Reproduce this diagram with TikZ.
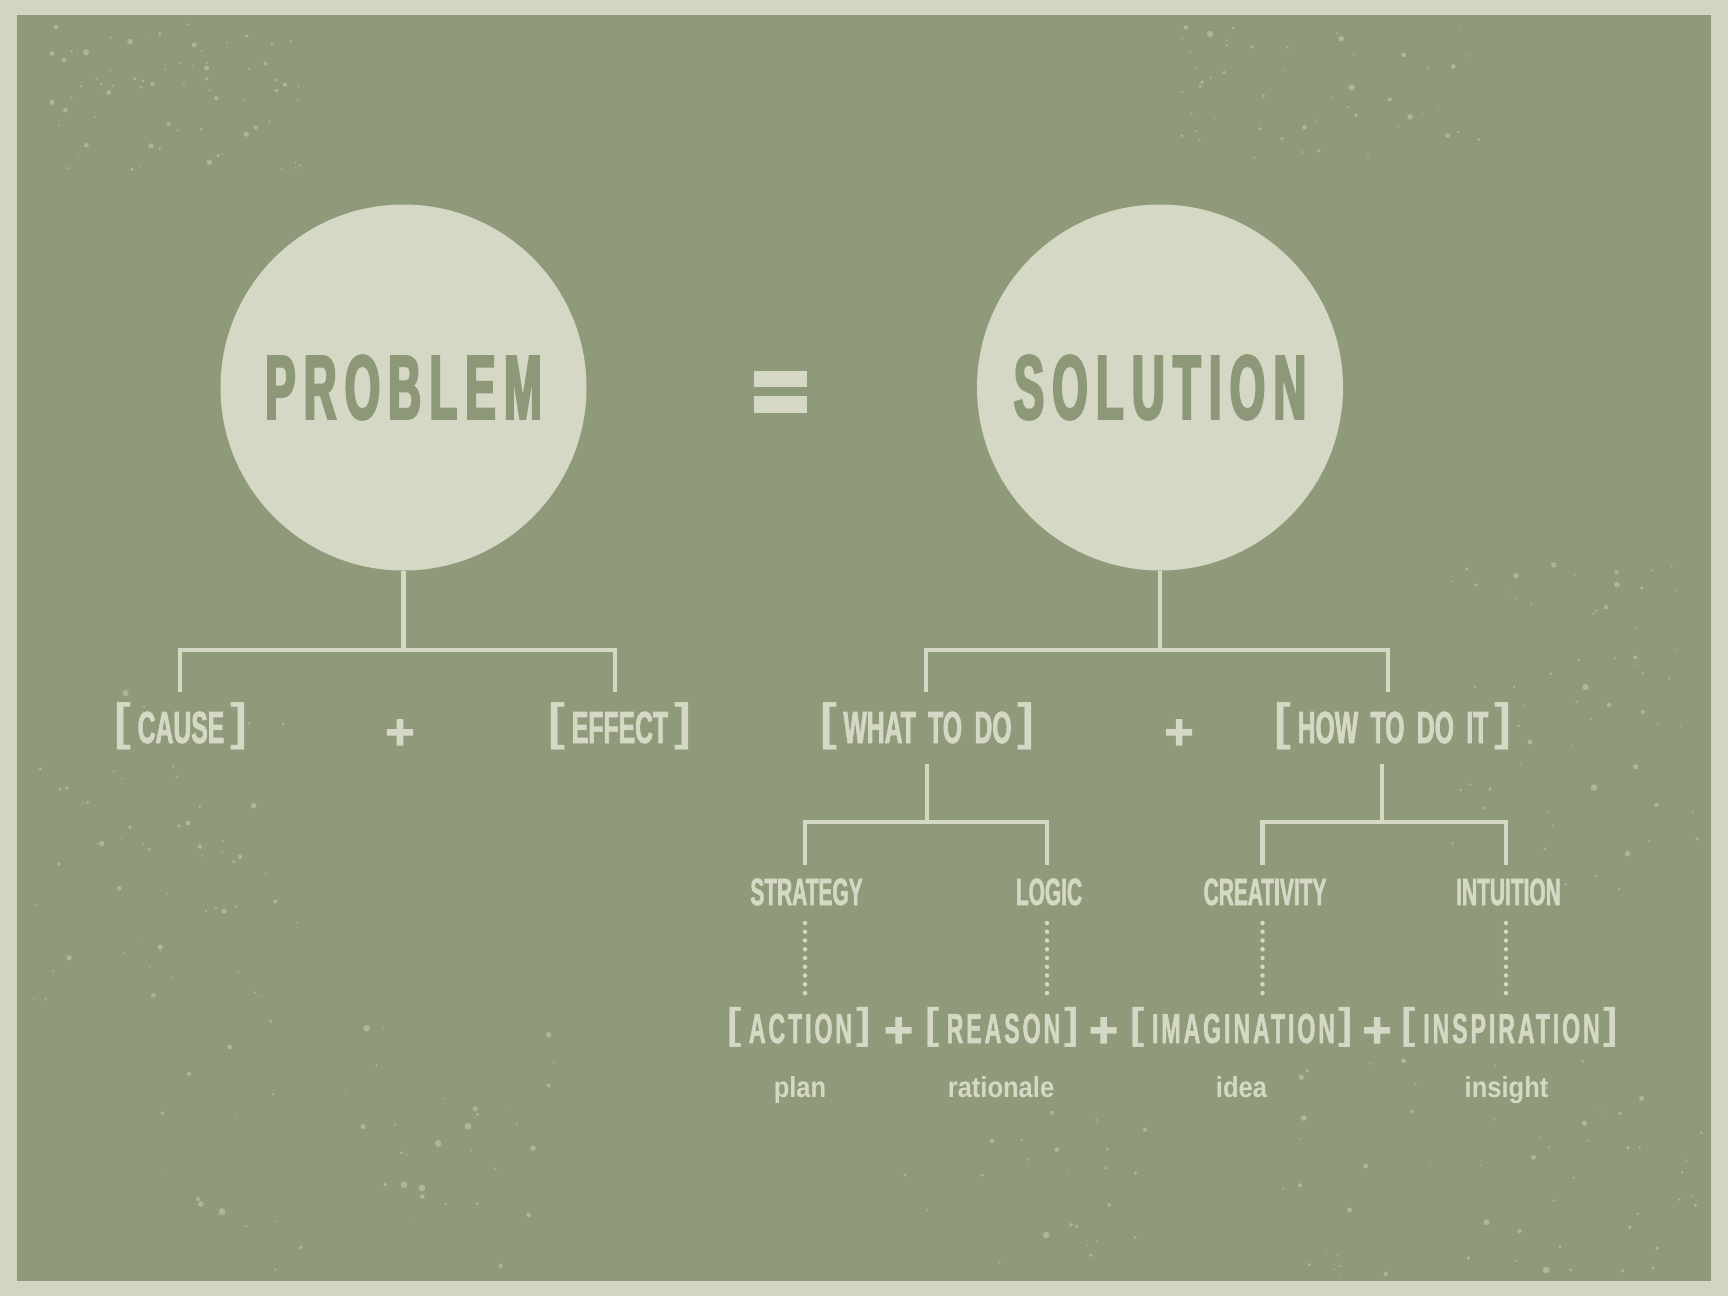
\documentclass[tikz,border=0pt]{standalone}
\usepackage{fontspec}
\setmainfont{Liberation Sans}
\newfontfamily\titlefont{Liberation Sans}[FakeStretch=0.5,LetterSpace=9,FakeBold=2.5]
\newfontfamily\midfont{Liberation Sans}[FakeStretch=0.55,WordSpace=1.8,FakeBold=1.5]
\newfontfamily\lowfont{Liberation Sans}[FakeStretch=0.55,LetterSpace=7,FakeBold=1.2]
\newfontfamily\subfont{Liberation Sans}[FakeStretch=0.88]
\newfontfamily\brfont{Liberation Sans}
\newfontfamily\plusfont{Liberation Sans}[FakeBold=2]
\definecolor{outerbg}{HTML}{D3D5C2}
\definecolor{fieldgreen}{HTML}{8E9A7A}
\definecolor{lite}{HTML}{D5D8C4}
\definecolor{dgreen}{HTML}{8C9877}
\newcommand\mlb{{\brfont\bfseries\fontsize{51}{51}\selectfont\raisebox{3.5pt}{[}}\hspace{6pt}}
\newcommand\mrb{\hspace{6pt}{\brfont\bfseries\fontsize{51}{51}\selectfont\raisebox{3.5pt}{]}}}
\newcommand\llb{{\brfont\bfseries\fontsize{43}{43}\selectfont\raisebox{5pt}{[}}\hspace{7pt}}
\newcommand\lrb{\hspace{4pt}{\brfont\bfseries\fontsize{43}{43}\selectfont\raisebox{5pt}{]}}}
\newcommand\specks[5]{%
  \foreach \k in {1,...,#5}{%
    \pgfmathsetmacro\sx{#1+(#3-#1)*rnd}%
    \pgfmathsetmacro\sy{#2+(#4-#2)*rnd}%
    \pgfmathsetmacro\sr{0.8+3*rnd*rnd}%
    \fill[speck] (\sx,\sy) circle[radius=\sr pt];%
  }%
}
\begin{document}
\begin{tikzpicture}[x=1pt,y=-1pt,
  conn/.style={draw=lite,line width=4.5pt},
  dotline/.style={draw=lite,line width=4.5pt,line cap=round,dash pattern=on 0pt off 8.75pt},
  bigc/.style={circle,fill=lite,minimum size=366pt,inner sep=0pt,outer sep=0pt,text=dgreen},
  lbl/.style={inner sep=0pt,outer sep=0pt,text=lite,anchor=base},
  midtxt/.style={lbl,font=\midfont\bfseries\fontsize{45}{45}\selectfont},
  smalltxt/.style={lbl,font=\midfont\bfseries\fontsize{38}{38}\selectfont},
  lowtxt/.style={lbl,font=\lowfont\bfseries\fontsize{42}{42}\selectfont},
  subtxt/.style={lbl,font=\subfont\bfseries\fontsize{29}{29}\selectfont},
  plustxt/.style={lbl,font=\plusfont\bfseries\fontsize{50}{50}\selectfont},
  speck/.style={fill=lite,fill opacity=0.45}]
\fill[outerbg] (0,0) rectangle (1728,1296);
\fill[fieldgreen] (17,15) rectangle (1711,1281);
\useasboundingbox (0,0) rectangle (1728,1296);
% texture
\pgfmathsetseed{42}
\specks{50}{22}{300}{170}{70}
\specks{1180}{22}{1480}{160}{50}
\specks{1450}{560}{1700}{900}{60}
\specks{30}{680}{300}{1000}{55}
\specks{160}{1020}{560}{1270}{45}
\specks{900}{1110}{1150}{1270}{25}
\specks{1280}{1060}{1705}{1275}{55}
% circles
\node[bigc] (prob) at (403.5,387.5) {\titlefont\bfseries\fontsize{91}{91}\selectfont PROBLEM\hspace{-8pt}};
\node[bigc] (sol) at (1160,387.5) {\titlefont\bfseries\fontsize{91}{91}\selectfont SOLUTION\hspace{-8pt}};
% equals sign
\fill[lite] (754,371) rectangle (807,387);
\fill[lite] (754,396) rectangle (807,413);
% level 1 labels
\node[midtxt] (cause) at (181,743) {\mlb CAUSE\mrb};
\node[plustxt] (p1) at (400,749) {+};
\node[midtxt] (effect) at (620,743) {\mlb EFFECT\mrb};
\node[midtxt] (what) at (927.5,743) {\mlb WHAT TO DO\mrb};
\node[plustxt] (p2) at (1179,749) {+};
\node[midtxt] (how) at (1393,743) {\mlb HOW TO DO IT\mrb};
% level 2 labels
\node[smalltxt] (strat) at (806.5,905) {STRATEGY};
\node[smalltxt] (logic) at (1049,905) {LOGIC};
\node[smalltxt] (creat) at (1265,905) {CREATIVITY};
\node[smalltxt] (intu) at (1508.5,905) {INTUITION};
% level 3 labels
\node[lowtxt] (action) at (799,1043) {\llb ACTION\lrb};
\node[plustxt] (p3) at (898.5,1047) {+};
\node[lowtxt] (reason) at (1002,1043) {\llb REASON\lrb};
\node[plustxt] (p4) at (1103.5,1047) {+};
\node[lowtxt] (imag) at (1242,1043) {\llb IMAGINATION\lrb};
\node[plustxt] (p5) at (1377,1047) {+};
\node[lowtxt] (insp) at (1510,1043) {\llb INSPIRATION\lrb};
% level 4 words
\node[subtxt] (plan) at (800,1097) {plan};
\node[subtxt] (ratio) at (1001,1097) {rationale};
\node[subtxt] (idea) at (1241.5,1097) {idea};
\node[subtxt] (insight) at (1506.5,1097) {insight};
% connector coordinates
\coordinate (pj) at (403.5,650);
\coordinate (ct) at (180,692);
\coordinate (et) at (615,692);
\coordinate (sj) at (1160,650);
\coordinate (wt) at (926,692);
\coordinate (ht) at (1388,692);
\coordinate (w0) at (927,764);
\coordinate (wj) at (927,822);
\coordinate (st) at (805,865);
\coordinate (lt) at (1047,865);
\coordinate (h0) at (1382,764);
\coordinate (hj) at (1382,822);
\coordinate (crt) at (1262.5,865);
\coordinate (itt) at (1506,865);
\coordinate (sd0) at (805,923);   \coordinate (sd1) at (805,993);
\coordinate (ld0) at (1047,923);  \coordinate (ld1) at (1047,993);
\coordinate (cd0) at (1262.5,923);\coordinate (cd1) at (1262.5,993);
\coordinate (id0) at (1506,923);  \coordinate (id1) at (1506,993);
% connectors
\draw[conn] (prob.south) -- (pj);
\draw[conn] (ct) |- (pj) -| (et);
\draw[conn] (sol.south) -- (sj);
\draw[conn] (wt) |- (sj) -| (ht);
\draw[conn] (w0) -- (wj);
\draw[conn] (st) |- (wj) -| (lt);
\draw[conn] (h0) -- (hj);
\draw[conn] (crt) |- (hj) -| (itt);
\draw[dotline] (sd0) -- (sd1);
\draw[dotline] (ld0) -- (ld1);
\draw[dotline] (cd0) -- (cd1);
\draw[dotline] (id0) -- (id1);
\end{tikzpicture}
\end{document}
